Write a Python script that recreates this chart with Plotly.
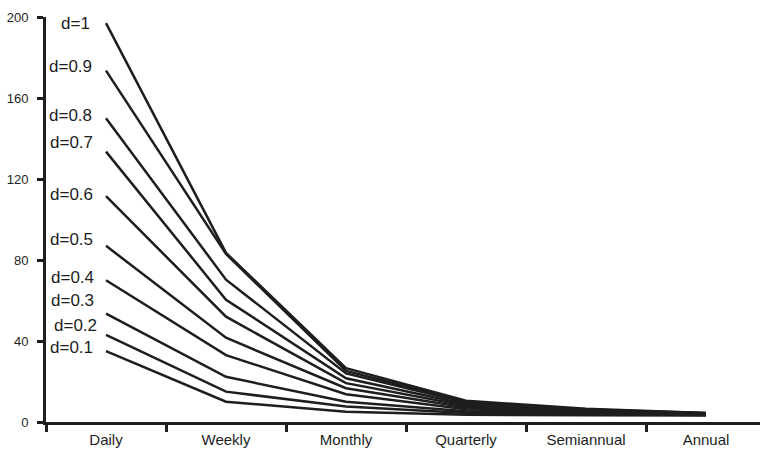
import plotly.graph_objects as go

categories = ["Daily", "Weekly", "Monthly", "Quarterly", "Semiannual", "Annual"]
series_names = ["d=1", "d=0.9", "d=0.8", "d=0.7", "d=0.6", "d=0.5", "d=0.4", "d=0.3", "d=0.2", "d=0.1"]
v_d10 = [197, 83.5, 26.6, 10.5, 6.5, 4.5]
v_d09 = [173.5, 83, 25.2, 10.0, 6.2, 4.4]
v_d08 = [150, 70.3, 24.0, 9.5, 5.9, 4.3]
v_d07 = [133.5, 60.4, 21.6, 8.8, 5.6, 4.2]
v_d06 = [111.5, 52, 19.2, 8.0, 5.3, 4.1]
v_d05 = [87, 41.6, 16.7, 7.2, 5.0, 4.0]
v_d04 = [70, 33, 13.7, 6.3, 4.6, 3.8]
v_d03 = [53.5, 22.3, 10.0, 5.3, 4.2, 3.6]
v_d02 = [43, 15, 7.6, 4.5, 3.8, 3.4]
v_d01 = [35, 10, 5.1, 3.6, 3.3, 3.2]
y_ticks = [0, 40, 80, 120, 160, 200]

all_values = [v_d10, v_d09, v_d08, v_d07, v_d06, v_d05, v_d04, v_d03, v_d02, v_d01]
# label styling offsets (pixels)
label_yshift = [0, 4, 3, 9, 2, 6, 3, 13, 9, 4]
label_xshift = [-14, -12, -12, -11, -11, -11, -10, -10, -7, -11]

fig = go.Figure()
for name, vals in zip(series_names, all_values):
    fig.add_trace(go.Scatter(x=categories, y=vals, mode="lines", name=name,
                             line=dict(color="#1e1e1e", width=2.5), showlegend=False,
                             cliponaxis=False))

for name, vals, ys, xs in zip(series_names, all_values, label_yshift, label_xshift):
    fig.add_annotation(x=categories[0], y=vals[0], text=name, showarrow=False,
                       xanchor="right", yanchor="middle", xshift=xs, yshift=ys,
                       font=dict(size=17, color="#1e1e1e", family="Liberation Sans, Arial, sans-serif"))

fig.update_layout(
    width=760, height=452,
    margin=dict(l=46, r=0, t=17, b=30, autoexpand=False),
    paper_bgcolor="white", plot_bgcolor="white",
    font=dict(family="Liberation Sans, Arial, sans-serif", color="#1e1e1e"),
)
fig.update_xaxes(
    type="category", range=[-0.5, 5.45], tickson="boundaries", automargin=False,
    showline=True, linecolor="#1e1e1e", linewidth=3,
    ticks="outside", ticklen=7, tickwidth=3, tickcolor="#1e1e1e",
    showgrid=False, zeroline=False, ticklabelstandoff=2,
    tickfont=dict(size=15, color="#1e1e1e"),
)
fig.update_yaxes(
    range=[0, 200], tickvals=y_ticks, automargin=False,
    showline=True, linecolor="#1e1e1e", linewidth=3,
    ticks="outside", ticklen=6, tickwidth=3, tickcolor="#1e1e1e",
    showgrid=False, zeroline=False, ticklabelstandoff=6,
    tickfont=dict(size=13, color="#1e1e1e"),
)
fig.write_html("out.html", config={"displayModeBar": False, "staticPlot": True},
               post_script="document.body.style.margin='0';")
